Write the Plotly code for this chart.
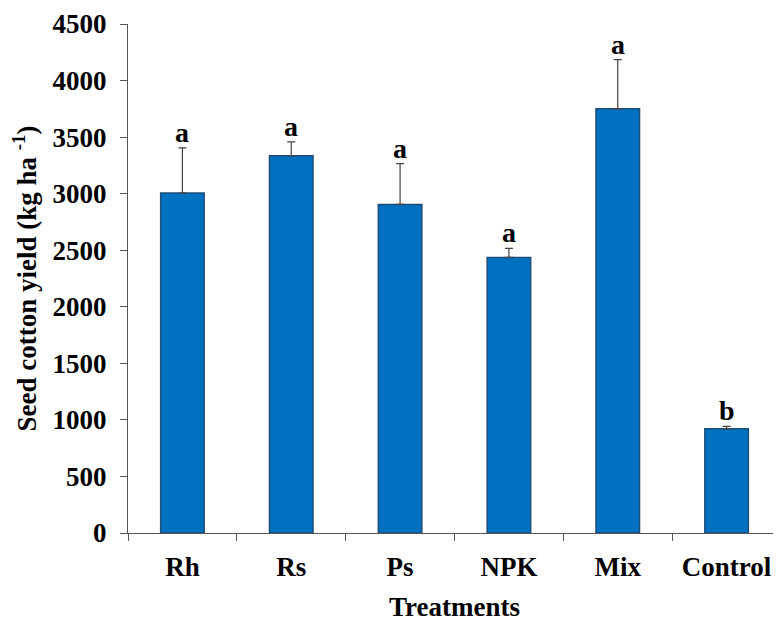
import plotly.graph_objects as go

categories = ["Rh", "Rs", "Ps", "NPK", "Mix", "Control"]
yield_values = [3005, 3335, 2905, 2436, 3750, 921]
error_plus = [400, 122, 360, 80, 435, 22]
letters = ["a", "a", "a", "a", "a", "b"]
y_ticks = [0, 500, 1000, 1500, 2000, 2500, 3000, 3500, 4000, 4500]

FONT = "Liberation Serif"

fig = go.Figure()
fig.add_trace(go.Bar(
    x=categories,
    y=yield_values,
    width=0.4,
    marker=dict(color="#0070C0", line=dict(color="#1F4E79", width=1.5)),
    error_y=dict(type="data", symmetric=False, array=error_plus,
                 arrayminus=[0] * len(error_plus),
                 color="#444444", thickness=1.2, width=4),
))

for c, v, e, l in zip(categories, yield_values, error_plus, letters):
    fig.add_annotation(x=c, y=v + e, text="<b>%s</b>" % l, showarrow=False,
                       yanchor="bottom", yshift=-2,
                       font=dict(family=FONT, size=28, color="black"))

fig.update_layout(
    width=773, height=616,
    margin=dict(l=120, r=0, t=16, b=91),
    paper_bgcolor="white", plot_bgcolor="white",
    showlegend=False,
    font=dict(family=FONT, color="black"),
)
fig.update_xaxes(
    type="category", range=[-0.5, 5.5],
    showline=True, linecolor="#555555", linewidth=1.2,
    ticks="outside", tickson="boundaries", ticklen=7, tickcolor="#555555",
    tickfont=dict(family=FONT, size=27, color="black"),
    tickprefix="<b>", ticksuffix="</b>",
    ticklabelstandoff=9,
    title=dict(text="<b>Treatments</b>", font=dict(family=FONT, size=27, color="black"), standoff=16),
    showgrid=False,
)
fig.update_yaxes(
    range=[0, 4500], tickvals=y_ticks, ticktext=["<b>%d</b>" % t for t in y_ticks],
    showline=True, linecolor="#555555", linewidth=1.2,
    ticks="outside", ticklen=7, tickcolor="#555555",
    tickfont=dict(family=FONT, size=27, color="black"),
    ticklabelstandoff=8,
    title=dict(text="<b>Seed cotton yield (kg ha <sup>-1</sup>)</b>",
               font=dict(family=FONT, size=27, color="black"), standoff=20),
    showgrid=False, zeroline=False,
)

fig.write_html("out.html")
